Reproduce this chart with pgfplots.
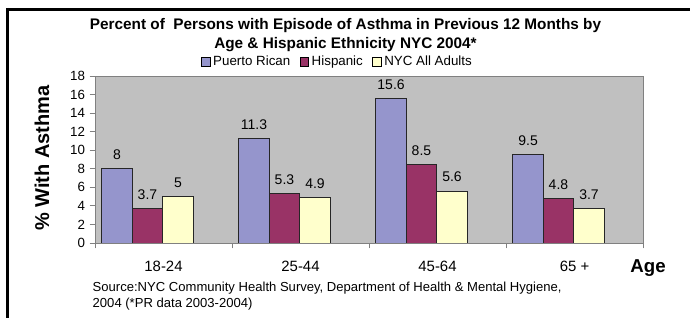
\documentclass[border=0pt]{standalone}
\usepackage{pgfplots}
\pgfplotsset{compat=1.18}
\usepackage{fontspec}
\setmainfont{Liberation Sans}
\definecolor{prblue}{HTML}{9595CC}
\definecolor{hisp}{HTML}{993366}
\definecolor{nyc}{HTML}{FFFFCC}
\definecolor{bg}{HTML}{C0C0C0}
\definecolor{axgray}{HTML}{808080}
\begin{document}
\begin{tikzpicture}[x=0.75pt,y=0.75pt]
\useasboundingbox (0,0) rectangle (690,318);
\fill[white] (0,0) rectangle (690,318);
\draw[line width=2.25pt] (6,308.5) -- (690,308.5);
\draw[line width=2.25pt] (7.5,310) -- (7.5,0);
\node[align=center, font=\bfseries\fontsize{11.5}{14.25}\selectfont] at (345.5,283)
  {Percent of\ \ Persons with Episode of Asthma in Previous 12 Months by\\Age \& Hispanic Ethnicity NYC 2004*};
\node[rotate=90, font=\bfseries\fontsize{15}{16}\selectfont] at (42,160) {\% With Asthma};
\node[font=\bfseries\fontsize{14}{16}\selectfont] at (648,50) {Age};
\node[align=left, anchor=west, font=\fontsize{9.8}{12}\selectfont] at (88,22)
  {Source:NYC Community Health Survey, Department of Health \& Mental Hygiene,\\2004 (*PR data 2003-2004)};
\begin{axis}[
  at={(71.25pt,56.25pt)}, anchor=south west,
  scale only axis, width=411pt, height=125.25pt,
  xmin=-0.5, xmax=3.5, ymin=0, ymax=18,
  ytick={0,2,...,18},
  xtick={0,1,2,3},
  xticklabels={18-24,25-44,45-64,65 +},
  minor xtick={-0.5,0.5,1.5,2.5,3.5},
  tick align=outside,
  xtick pos=bottom, ytick pos=left,
  major tick length=4pt,
  minor tick length=4pt,
  major x tick style={draw=none},
  tick style={axgray, line width=0.6pt},
  axis line style={axgray, line width=0.6pt},
  axis background/.style={fill=bg},
  /pgf/number format/assume math mode=true,
  ticklabel style={font=\fontsize{10}{12}\selectfont},
  xticklabel style={font=\fontsize{11.2}{12}\selectfont, yshift=-6pt},
  ybar,
  bar width=0.222,
  nodes near coords,
  every node near coord/.append style={font=\fontsize{10.5}{12}\selectfont, black, yshift=3pt},
  legend style={at={(0.443,1.085)}, anchor=center, draw=none, fill=none,
    legend columns=3, font=\fontsize{10}{11}\selectfont,
    /tikz/every even column/.append style={column sep=5pt}},
  legend image code/.code={\draw[#1,draw=black,line width=0.5pt] (0pt,-3.3pt) rectangle (6.6pt,3.3pt);},
  legend cell align=left,
]
\addplot[fill=prblue, draw=black!85, line width=0.7pt, bar shift=-0.339] coordinates {(0,8) (1,11.3) (2,15.6) (3,9.5)};
\addplot[fill=hisp, draw=black!85, line width=0.7pt, bar shift=-0.117] coordinates {(0,3.7) (1,5.3) (2,8.5) (3,4.8)};
\addplot[fill=nyc, draw=black!85, line width=0.7pt, bar shift=0.106] coordinates {(0,5) (1,4.9) (2,5.6) (3,3.7)};
\legend{Puerto Rican,Hispanic,NYC All Adults}
\end{axis}
\end{tikzpicture}
\end{document}
